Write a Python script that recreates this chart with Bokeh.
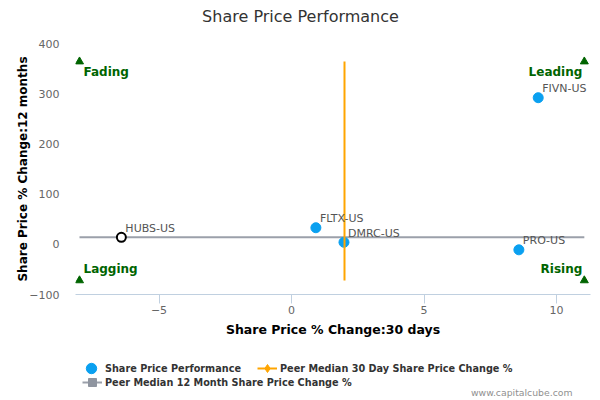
from bokeh.plotting import figure
from bokeh.layouts import column
from bokeh.models import Range1d, FixedTicker, Legend, LegendItem, Label
from bokeh.core.properties import value
from bokeh.embed import file_html
from bokeh.resources import INLINE

# ---- data ----
tickers = ["FIVN-US", "FLTX-US", "DMRC-US", "PRO-US"]
chg_30d = [9.31, 0.92, 1.98, 8.58]
chg_12m = [292, 33, 4, -11]
subject = ["HUBS-US"]
subject_30d = [-6.42]
subject_12m = [14]
peer_median_30d = [2.0]
peer_median_12m = [14]
quadrant_names = ["Fading", "Leading", "Lagging", "Rising"]
quadrant_x = [-8.0, 11.05, -8.0, 11.05]
quadrant_y = [364, 364, -72, -72]
x_ticks = [-5, 0, 5, 10]
y_ticks = [-100, 0, 100, 200, 300, 400]
legend_labels = ["Share Price Performance",
                 "Peer Median 30 Day Share Price Change %",
                 "Peer Median 12 Month Share Price Change %"]

FONT = "DejaVu Sans"
BLUE = "#0aa0f0"
ORANGE = "#ffa500"
GRAY = "#9ba0aa"
GREEN = "#006400"
NAN = float("nan")


def strip(h):
    f = figure(width=600, height=h, output_backend="svg", toolbar_location=None,
               x_range=Range1d(0, 600), y_range=Range1d(0, h),
               x_axis_type=None, y_axis_type=None,
               min_border_left=0, min_border_right=0, min_border_top=0,
               min_border_bottom=0)
    f.frame_align = False
    f.outline_line_color = None
    f.grid.visible = False
    f.border_fill_color = "white"
    return f


# ---- title strip ----
p0 = strip(30)
p0.add_layout(Label(x=300, y=14, x_units="screen", y_units="screen",
                    text="Share Price Performance", text_align="center",
                    text_baseline="middle", text_font=FONT, text_font_size="16px",
                    text_color="#333333"))

# ---- main chart ----
p = figure(width=600, height=315, output_backend="svg", toolbar_location=None,
           x_range=Range1d(-8.151, 11.283), y_range=Range1d(-100, 400),
           min_border_left=75, min_border_right=10, min_border_top=13,
           min_border_bottom=51)
p.frame_align = False
p.outline_line_color = None
p.xgrid.grid_line_color = None
p.ygrid.grid_line_color = None
p.border_fill_color = "white"

xa = p.xaxis[0]
xa.ticker = FixedTicker(ticks=x_ticks)
xa.axis_line_color = "#C0D0E0"
xa.major_tick_line_color = "#C0D0E0"
xa.major_tick_out = 9
xa.major_tick_in = 0
xa.minor_tick_line_color = None
xa.major_label_text_font = FONT
xa.major_label_text_font_size = "11px"
xa.major_label_text_color = "#666666"
xa.major_label_standoff = 2
xa.axis_label = "Share Price % Change:30 days"
xa.axis_label_text_font = FONT
xa.axis_label_text_font_style = "bold"
xa.axis_label_text_font_size = "12.5px"
xa.axis_label_text_color = "#000000"
xa.axis_label_standoff = 5

ya = p.yaxis[0]
ya.ticker = FixedTicker(ticks=y_ticks)
ya.axis_line_color = None
ya.major_tick_line_color = None
ya.major_tick_out = 0
ya.major_tick_in = 0
ya.minor_tick_line_color = None
ya.major_label_text_font = FONT
ya.major_label_text_font_size = "11px"
ya.major_label_text_color = "#666666"
ya.major_label_standoff = 16
ya.axis_label = "Share Price % Change:12 months"
ya.axis_label_text_font = FONT
ya.axis_label_text_font_style = "bold"
ya.axis_label_text_font_size = "12px"
ya.axis_label_text_color = "#000000"
ya.axis_label_standoff = -4

x_lo, x_hi = min(quadrant_x), max(quadrant_x)
y_lo, y_hi = min(quadrant_y), max(quadrant_y)

# peer median 12 month (horizontal)
p.line(x=[x_lo, x_hi], y=[peer_median_12m[0]] * 2, line_color=GRAY, line_width=2)
# peers
p.scatter(x=chg_30d, y=chg_12m, marker="circle", size=10,
          fill_color=BLUE, line_color=BLUE)
# peer median 30 day (vertical)
p.line(x=[peer_median_30d[0]] * 2, y=[y_lo, y_hi], line_color=ORANGE, line_width=2)
# subject company
p.scatter(x=subject_30d, y=subject_12m, marker="circle", size=9,
          fill_color="white", line_color="black", line_width=2)

# quadrant triangles
p.scatter(x=quadrant_x, y=quadrant_y, marker="triangle", size=8,
          fill_color=GREEN, line_color=GREEN)

# quadrant labels
qa = ["left", "right", "left", "right"]
qxo = [4, -2, 4, -2]
qyo = [10, 10, -11, -11]
for name, qx, qy, al, xo, yo in zip(quadrant_names, quadrant_x, quadrant_y, qa, qxo, qyo):
    p.text(x=[qx], y=[qy], text=[name], x_offset=xo, y_offset=yo,
           text_align=al, text_baseline="alphabetic",
           text_font=value(FONT), text_font_style="bold", text_font_size="12px",
           text_color=GREEN)

# point labels
p.text(x=chg_30d + subject_30d, y=chg_12m + subject_12m, text=tickers + subject,
       x_offset=4, y_offset=-9, text_align="left", text_baseline="alphabetic",
       text_font=value(FONT), text_font_size="11px", text_color="#555555")

# ---- legend strip ----
p2 = strip(55)

lg_pts = p2.scatter(x=[NAN], y=[NAN], marker="circle", size=10, fill_color=BLUE, line_color=BLUE)
lg_v = p2.line(x=[NAN], y=[NAN], line_color=ORANGE, line_width=2)
lg_vd = p2.scatter(x=[NAN], y=[NAN], marker="diamond", size=9, fill_color=ORANGE, line_color=ORANGE)
lg_h = p2.line(x=[NAN], y=[NAN], line_color=GRAY, line_width=2)
lg_hs = p2.scatter(x=[NAN], y=[NAN], marker="square", size=8, fill_color="#8f95a0", line_color="#8f95a0")


def make_legend(label, renderers, loc, gw, gh, standoff):
    return Legend(items=[LegendItem(label=label, renderers=renderers)],
                  location=loc, orientation="horizontal",
                  glyph_width=gw, glyph_height=gh, label_standoff=standoff,
                  label_text_font=FONT, label_text_font_style="bold",
                  label_text_font_size="9.7px", label_text_color="#333333",
                  padding=0, margin=0, spacing=0, border_line_color=None,
                  background_fill_alpha=0)


p2.add_layout(make_legend(legend_labels[0], [lg_pts], (78, 19), 26, 26, 1))
p2.add_layout(make_legend(legend_labels[1], [lg_v, lg_vd], (257, 22), 20, 20, 3))
p2.add_layout(make_legend(legend_labels[2], [lg_h, lg_hs], (82, 8), 20, 20, 3))

p2.add_layout(Label(x=572, y=8, x_units="screen", y_units="screen",
                    text="www.capitalcube.com", text_align="right",
                    text_baseline="middle", text_font=FONT, text_font_size="9.3px",
                    text_color="#909090"))

layout = column(p0, p, p2, spacing=0)
open("out.html", "w").write(file_html(layout, INLINE))
